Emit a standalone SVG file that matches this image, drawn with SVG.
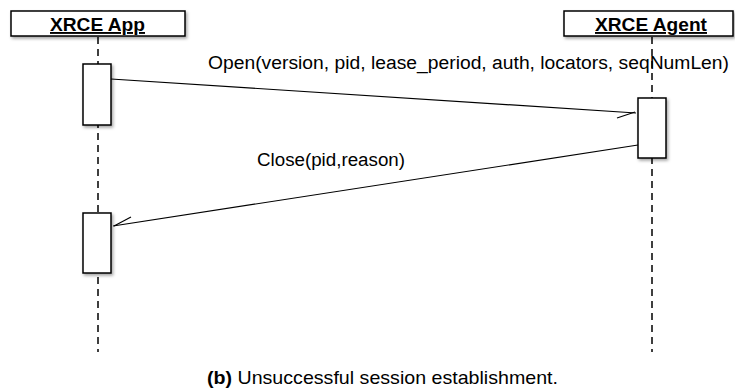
<svg xmlns="http://www.w3.org/2000/svg" width="735" height="390" viewBox="0 0 735 390">
  <style>
    .box { fill: #ffffff; stroke: #000000; stroke-width: 1.5; filter: url(#shadow); }
    .life { stroke: #000000; stroke-width: 1.5; stroke-dasharray: 7 5; fill: none; }
    .msg { stroke: #000000; stroke-width: 1.2; fill: none; }
    .title { font-family: "Liberation Sans", Arial, sans-serif; font-size: 19px; font-weight: bold; text-decoration: underline; text-anchor: middle; }
    .label { font-family: "Liberation Sans", Arial, sans-serif; font-size: 18.8px; fill: #000000; }
    .caption { font-family: "Liberation Sans", Arial, sans-serif; font-size: 19px; fill: #000000; }
  </style>
  <defs>
    <filter id="shadow" x="-20%" y="-20%" width="150%" height="150%">
      <feDropShadow dx="1.5" dy="2" stdDeviation="1.5" flood-color="#000000" flood-opacity="0.35"/>
    </filter>
  </defs>

  <!-- lifelines -->
  <g id="lifelines">
    <line class="life" x1="98" y1="37" x2="98" y2="352"/>
    <line class="life" x1="652" y1="37" x2="652" y2="352"/>
  </g>

  <g id="app">
    <rect class="box" x="11" y="11" width="174" height="25"/>
    <text class="title" x="97.5" y="31" textLength="95" lengthAdjust="spacingAndGlyphs">XRCE App</text>
  </g>

  <g id="agent">
    <rect class="box" x="564" y="11" width="169" height="25"/>
    <text class="title" x="651" y="31" textLength="112" lengthAdjust="spacingAndGlyphs">XRCE Agent</text>
  </g>

  <g id="app-activation-1">
    <rect class="box" x="83" y="64" width="28" height="61"/>
  </g>
  <g id="agent-activation">
    <rect class="box" x="638" y="98" width="28" height="60"/>
  </g>
  <g id="app-activation-2">
    <rect class="box" x="83" y="213" width="28" height="60"/>
  </g>

  <!-- messages -->
  <g id="connectors">
    <line class="msg" x1="111" y1="79" x2="636" y2="113"/>
    <line class="msg" x1="617" y1="118" x2="635" y2="112"/>
    <line class="msg" x1="638" y1="145" x2="113" y2="226"/>
    <line class="msg" x1="131" y1="217" x2="114" y2="226"/>
  </g>

  <text class="label" x="208" y="69" textLength="521" lengthAdjust="spacingAndGlyphs">Open(version, pid, lease_period, auth, locators, seqNumLen)</text>
  <text class="label" x="257" y="166" textLength="148" lengthAdjust="spacingAndGlyphs">Close(pid,reason)</text>

  <text class="caption" x="207" y="384" textLength="351" lengthAdjust="spacingAndGlyphs"><tspan font-weight="bold">(b)</tspan> Unsuccessful session establishment.</text>
</svg>
